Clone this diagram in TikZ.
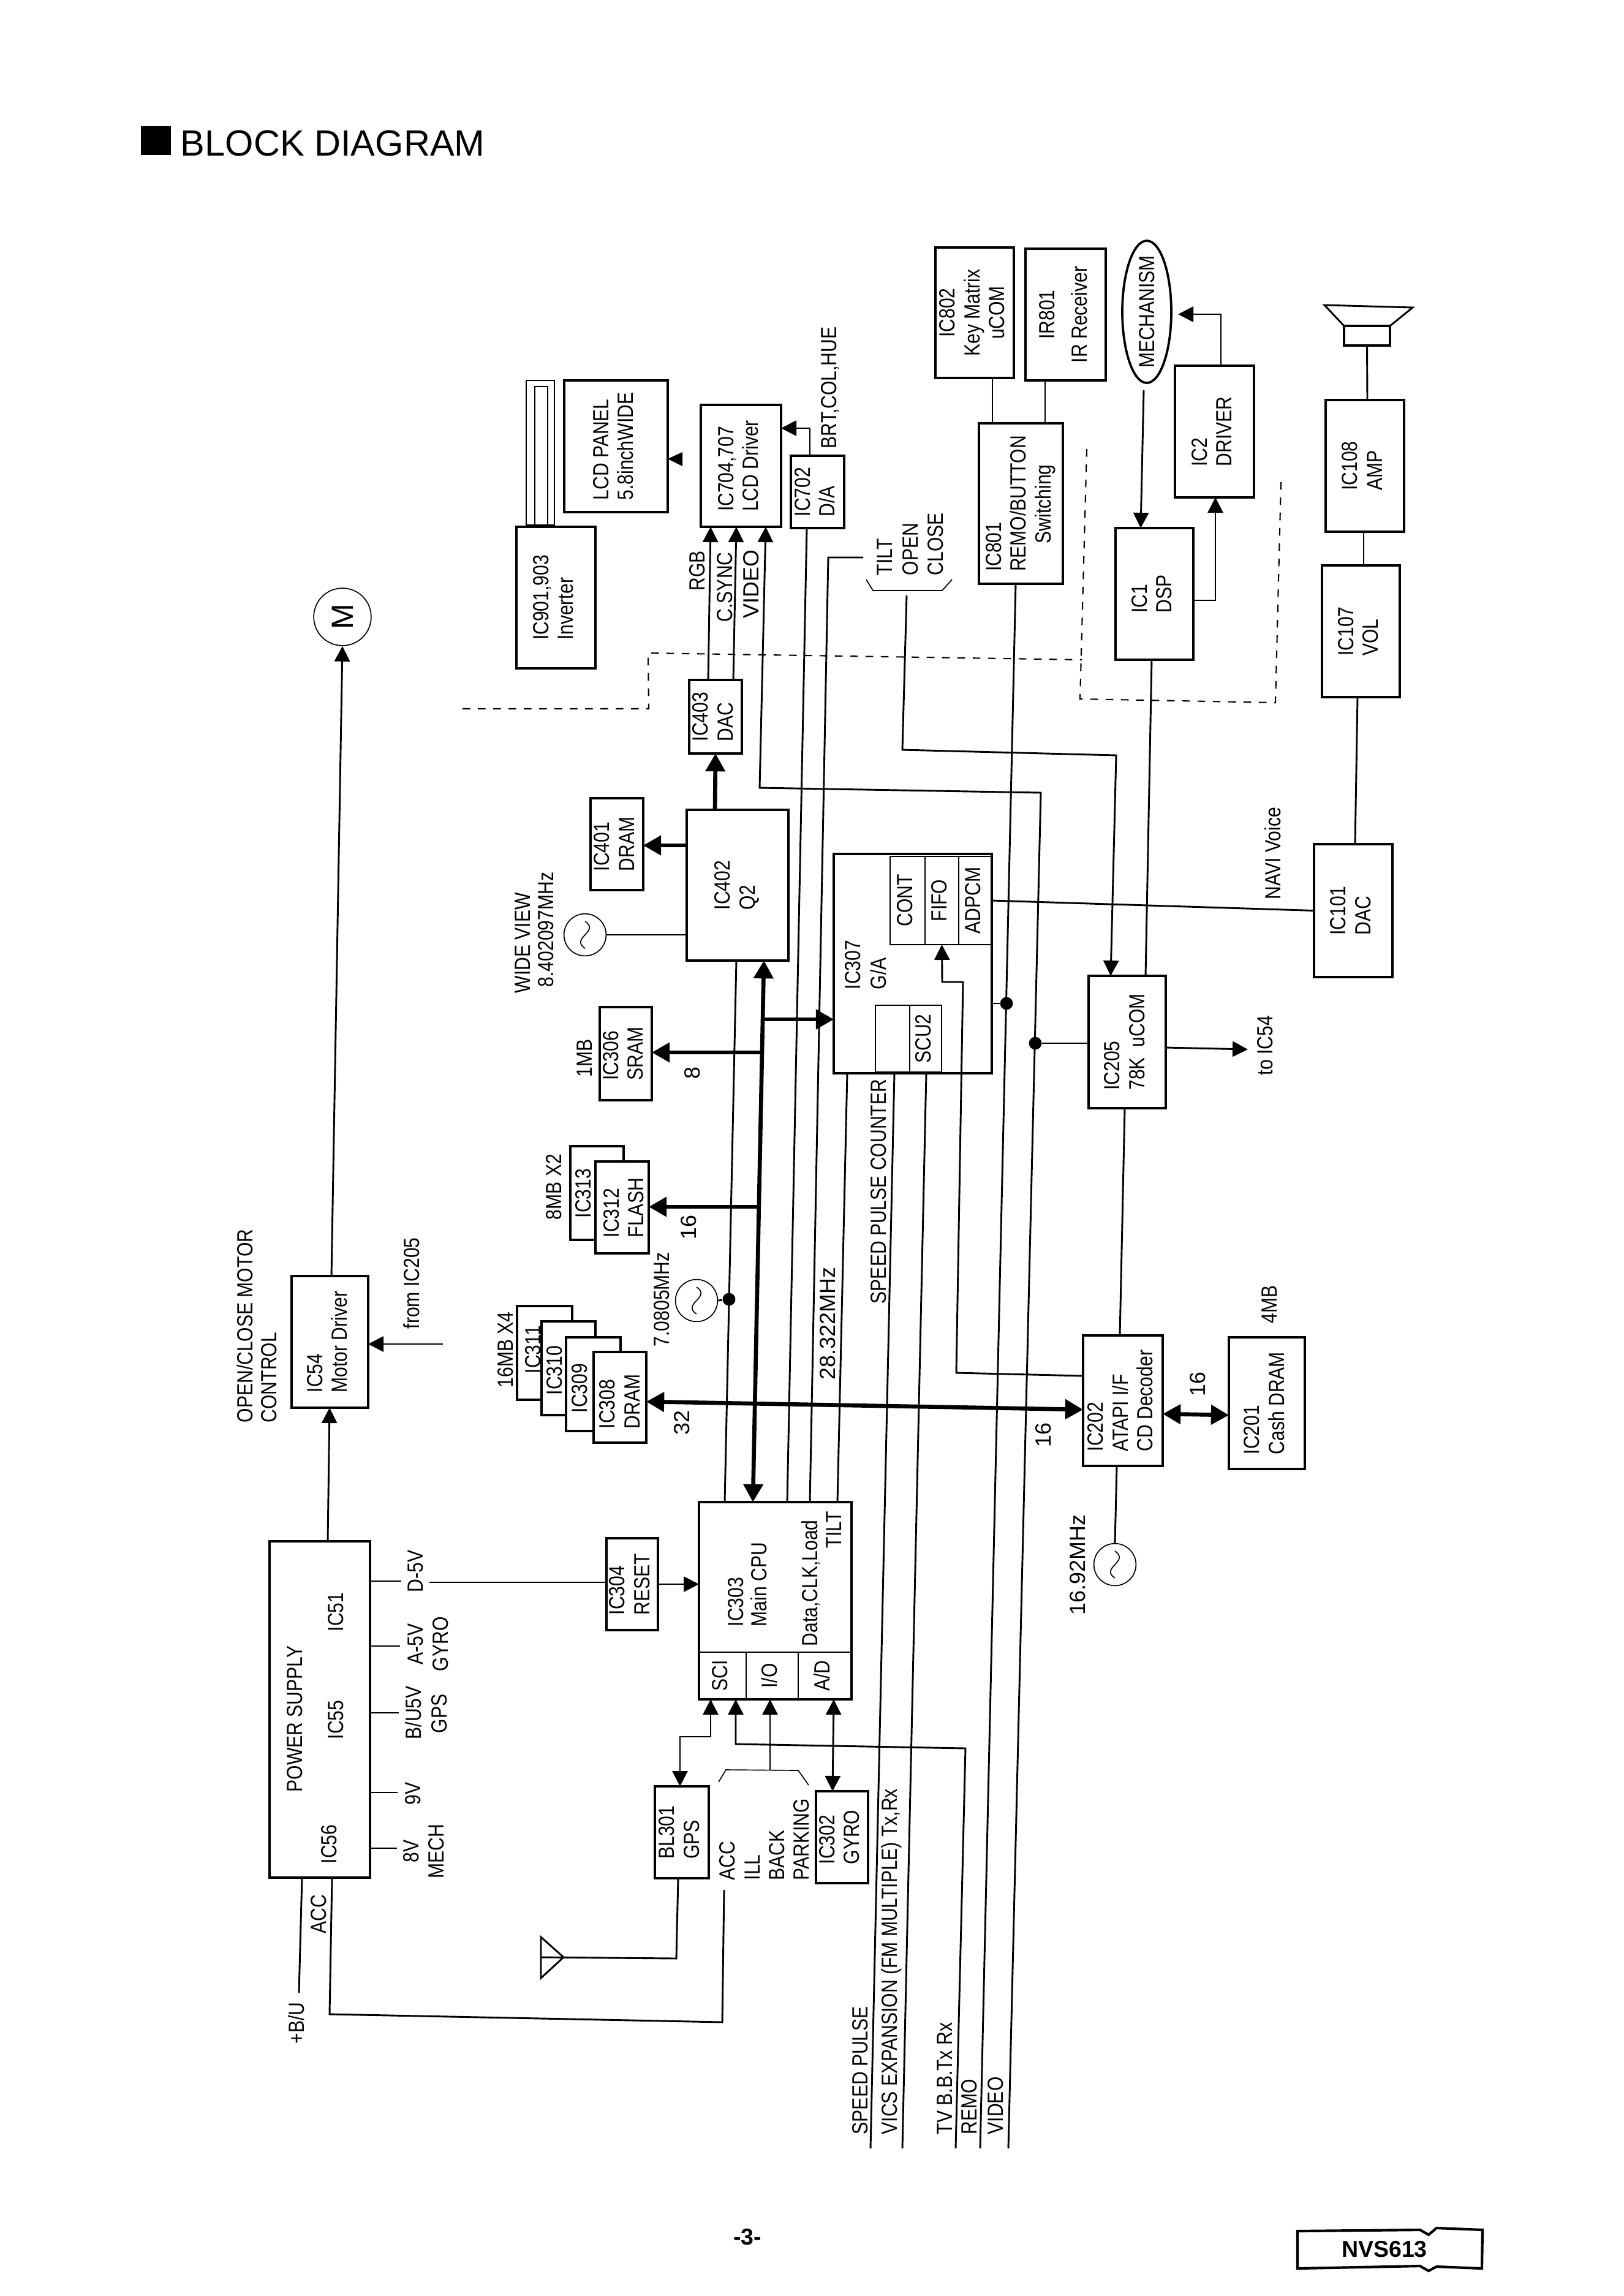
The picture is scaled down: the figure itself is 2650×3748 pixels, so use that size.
\documentclass[tikz,border=0pt]{standalone}
\usepackage{graphicx}
\usepackage{fontspec}
\setmainfont[FakeStretch=0.84]{Liberation Sans}
\newfontfamily\widefont{Liberation Sans}
\usetikzlibrary{arrows.meta}
\usetikzlibrary{shapes.geometric}
\newcommand{\vlines}[1]{\rotatebox{90}{\begin{tabular}{@{}l@{}}#1\end{tabular}}}
\newcommand{\vmid}[1]{\rotatebox{90}{\begin{tabular}{@{}c@{}}#1\end{tabular}}}
\tikzset{corners/.style n args={4}{at={({(#1+#3)/2},{(#2+#4)/2})},minimum width={(#3-#1)*0.24pt},minimum height={(#4-#2)*0.24pt}}}

\begin{document}
\begin{tikzpicture}
	[
	x=0.24pt,y=-0.24pt,
	font=\fontsize{8.6}{9.7}\selectfont,
	>={Triangle[length=6pt,width=6pt]}
	]
	\useasboundingbox (0,0) rectangle (2650,3748);
	
	% Node styles: blocks, inner cells, rotated labels, dots, oscillators
	\tikzstyle{block node}=[draw,line width=.9pt,inner sep=0,outer sep=0];
	\tikzstyle{stack node}=[block node,fill=white];
	\tikzstyle{cell node}=[draw,line width=.4pt,inner sep=0,outer sep=0];
	\tikzstyle{label node}=[rotate=90,anchor=west,inner sep=0];
	\tikzstyle{wide node}=[label node,font=\widefont\fontsize{8.6}{9.7}\selectfont];
	\tikzstyle{dot node}=[circle,fill=black,inner sep=0,minimum size=5pt];
	\tikzstyle{osc node}=[circle,draw,line width=.4pt,inner sep=0,minimum size=16.5pt];
	% Line styles
	\tikzstyle{wire}=[line width=.7pt];
	\tikzstyle{thin wire}=[line width=.4pt];
	\tikzstyle{bus}=[line width=1.6pt,>={Triangle[length=7pt,width=7.5pt]}];
	\tikzstyle{dash wire}=[line width=.5pt,dash pattern=on 3pt off 3pt];
	
	% Title and footer
	\node(titleMark)[fill=black,inner sep=0,corners={230}{206}{279}{253}]{};
	\node(titleText)[anchor=base west,inner sep=0,font=\widefont\fontsize{14.3}{16}\selectfont]at(294,254){BLOCK DIAGRAM};
	\node(pageNo)[font=\widefont\bfseries\fontsize{9}{10}\selectfont]at(1220,3652){-3-};
	\draw[line width=1pt] (2118,3642)--(2318,3640)--(2332,3648)--(2345,3637)--(2420,3640)--(2419,3703)--(2345,3700)--(2332,3707)--(2318,3699)--(2118,3703)--cycle;
	\node(modelNo)[font=\widefont\bfseries\fontsize{9}{10}\selectfont]at(2260,3672){NVS613};
	
	% LCD section
	\node(lampOuter)[block node,line width=.6pt,corners={859}{621}{905}{857}]{};
	\node(lampInner)[block node,line width=.6pt,corners={873}{631}{894}{857}]{};
	\node(IC901)[block node,corners={843}{860}{972}{1091}]{\vlines{IC901,903\\Inverter}};
	\node(LCD)[block node,corners={921}{621}{1090}{836}]{\vlines{LCD PANEL\\5.8inchWIDE}};
	\fill (1090,749)--(1114,738)--(1114,761)--cycle;
	\node(IC704)[block node,corners={1144}{661}{1275}{860}]{\vlines{IC704,707\\LCD Driver}};
	\node(IC702)[block node,corners={1291}{744}{1378}{862}]{\vlines{IC702\\D/A}};
	\node(IC403)[block node,corners={1125}{1110}{1211}{1230}]{\vlines{IC403\\DAC}};
	\node(IC401)[block node,corners={964}{1303}{1050}{1453}]{\vlines{IC401\\DRAM}};
	\node(IC402)[block node,corners={1121}{1322}{1287}{1568}]{\vlines{IC402\\Q2}};
	
	% Panel switches and mechanism
	\node(IC802)[block node,corners={1527}{404}{1655}{617}]{\vmid{IC802\\Key Matrix\\uCOM}};
	\node(IR801)[block node,corners={1674}{406}{1805}{621}]{\vmid{IR801\\[3pt]IR Receiver}};
	\node(IC801)[block node,corners={1598}{691}{1735}{953}]{\vlines{IC801\\REMO/BUTTON\\\hspace*{11pt}Switching}};
	\node(mech)[ellipse,draw,line width=.9pt,inner sep=0,minimum width=19.2pt,minimum height=55.7pt]at(1872,509){};
	\node(mechText)[rotate=90,inner sep=0]at(1872,509){MECHANISM};
	\node(IC2)[block node,corners={1918}{597}{2047}{812}]{\vlines{IC2\\DRIVER}};
	\node(IC1)[block node,corners={1821}{862}{1948}{1077}]{\vlines{IC1\\DSP}};
	
	% Audio chain
	\draw[wire] (2162,498)--(2306,502)--(2269,532)--(2194,532)--cycle;
	\node(spkBox)[block node,corners={2194}{532}{2269}{564}]{};
	\node(IC108)[block node,corners={2164}{653}{2292}{868}]{\vlines{IC108\\AMP}};
	\node(IC107)[block node,corners={2158}{923}{2285}{1138}]{\vlines{IC107\\VOL}};
	\node(IC101)[block node,corners={2145}{1378}{2273}{1595}]{\vlines{IC101\\DAC}};
	
	% Graphics array
	\node(IC307)[block node,corners={1361}{1394}{1619}{1752}]{};
	\node(contCell)[cell node,corners={1453}{1398}{1510}{1542}]{\vlines{CONT}};
	\node(fifoCell)[cell node,corners={1510}{1398}{1565}{1542}]{\vlines{FIFO}};
	\node(adpcmCell)[cell node,corners={1565}{1398}{1619}{1542}]{\vlines{ADPCM}};
	\node(blankCell)[cell node,corners={1429}{1641}{1485}{1750}]{};
	\node(scuCell)[cell node,corners={1485}{1641}{1537}{1750}]{\vlines{SCU2}};
	\node(lblIC307)[label node]at(1392,1616){IC307};
	\node(lblGA)[label node]at(1434,1616){G/A};
	
	% Microcontroller, CD decoder, cache
	\node(IC205)[block node,corners={1777}{1593}{1903}{1809}]{\vlines{IC205\\78K\ \ uCOM}};
	\node(IC202)[block node,corners={1768}{2180}{1898}{2393}]{\vlines{IC202\\ATAPI I/F\\CD Decoder}};
	\node(IC201)[block node,corners={2006}{2183}{2130}{2398}]{\vlines{IC201\\Cash DRAM}};
	
	% Memories, stacked from the back
	\node(IC306)[block node,corners={979}{1644}{1064}{1796}]{\vlines{IC306\\SRAM}};
	\node(IC313)[stack node,corners={931}{1871}{1018}{2024}]{};
	\node(IC312)[stack node,corners={972}{1896}{1059}{2046}]{};
	\node(IC311)[stack node,corners={844}{2132}{934}{2285}]{};
	\node(IC310)[stack node,corners={884}{2157}{972}{2310}]{};
	\node(IC309)[stack node,corners={924}{2183}{1013}{2336}]{};
	\node(IC308)[stack node,corners={969}{2207}{1055}{2355}]{};
	\node(lblIC313)[label node]at(952,1989){IC313};
	\node(lblIC312)[label node]at(998,2021){IC312};
	\node(lblFlash)[label node]at(1038,2021){FLASH};
	\node(lblIC311)[label node]at(870,2243){IC311};
	\node(lblIC310)[label node]at(905,2278){IC310};
	\node(lblIC309)[label node]at(946,2307){IC309};
	\node(lblIC308)[label node]at(991,2333){IC308};
	\node(lblDram)[label node]at(1032,2333){DRAM};
	
	% Main CPU
	\node(IC303)[block node,corners={1141}{2452}{1390}{2774}]{};
	\node(sciCell)[cell node,corners={1141}{2697}{1218}{2774}]{\vlines{SCI}};
	\node(ioCell)[cell node,corners={1218}{2697}{1303}{2774}]{\vlines{I/O}};
	\node(adCell)[cell node,corners={1303}{2697}{1390}{2774}]{\vlines{A/D}};
	\node(lblIC303)[label node]at(1201,2656){IC303};
	\node(lblCpu)[label node]at(1239,2656){Main CPU};
	\node(lblData)[label node]at(1324,2688){Data,CLK,Load};
	\node(lblTilt)[label node]at(1361,2528){TILT};
	\node(IC304)[block node,corners={990}{2511}{1074}{2661}]{\vlines{IC304\\RESET}};
	\node(BL301)[block node,corners={1069}{2916}{1157}{3066}]{\vlines{BL301\\GPS}};
	\node(IC302)[block node,corners={1332}{2924}{1417}{3074}]{\vlines{IC302\\GYRO}};
	
	% Power and motor
	\node(PSU)[block node,corners={440}{2516}{604}{3065}]{};
	\node(lblPsu)[label node]at(481,2926){POWER SUPPLY};
	\node(lblIC51)[label node]at(548,2664){IC51};
	\node(lblIC55)[label node]at(548,2840){IC55};
	\node(lblIC56)[label node]at(537,3043){IC56};
	\node(IC54)[block node,corners={476}{2083}{601}{2298}]{\vlines{IC54\\Motor Driver}};
	\node(motor)[circle,draw,line width=.4pt,inner sep=0,minimum size=22.5pt,font=\widefont\fontsize{12}{13}\selectfont]at(559,1007){\rotatebox{90}{M}};
	
	% Oscillators
	\node(oscWide)[osc node]at(955,1526){};
	\node(oscNav)[osc node]at(1137,2123){};
	\node(oscCd)[osc node]at(1820,2554){};
	\foreach\o in {oscWide,oscNav,oscCd} \draw[thin wire,shift={(\o.center)}] (0,22) .. controls (-25,5) and (25,-5) .. (0,-22);
	
	% Free ends of the lines
	\coordinate(speedEnd) at (1421,3507);
	\coordinate(vicsEnd) at (1473,3507);
	\coordinate(tvEnd) at (1560,3507);
	\coordinate(remoEnd) at (1600,3507);
	\coordinate(videoEnd) at (1646,3507);
	\coordinate(tiltTap) at (1409,910);
	\coordinate(tiltBrace) at (1480,972);
	\coordinate(mechOut) at (1867,637);
	\coordinate(mechIn) at (1923,513);
	\coordinate(toIC54) at (2037,1713);
	\coordinate(fromIC205) at (723,2194);
	\coordinate(resetIn) at (701,2583);
	\coordinate(antTip) at (883,3195);
	\coordinate(accTap) at (1182,3085);
	\coordinate(braceTap) at (1257,2889);
	\coordinate(batEnd) at (488,3253);
	
	% Junctions
	\node(dotRemo)[dot node]at(1643,1638){};
	\node(dotVideo)[dot node]at(1690,1703){};
	\node(dotClk)[dot node]at(1190,2121){};
	
	% Lines of the LCD section
	\draw[wire,->] (1322,0 |- IC702.north)--(1322,699)--(IC704.east |- 0,699);
	\draw[wire,->] (1156,0 |- IC403.north)--(1160,0 |- IC704.south);
	\draw[wire,->] (1197,0 |- IC403.north)--(1202,0 |- IC704.south);
	\draw[wire,->] (videoEnd)--(1699,1294)--(1240,1286)--(1250,0 |- IC704.south);
	\draw[bus,->] (1167,0 |- IC402.north)--(1168,0 |- IC403.south);
	\draw[bus,->] (IC402.west |- 0,1380)--(IC401.east |- 0,1380);
	\draw[wire] (oscWide.east)--(IC402.west |- oscWide.east);
	
	% Lines into the main CPU
	\draw[wire] (1202,0 |- IC402.south)--(1183,0 |- IC303.north);
	\draw[wire] (1317,0 |- IC702.south)--(1285,0 |- IC303.north);
	\draw[wire] (tiltTap)--(1352,910)--(1322,0 |- IC303.north);
	\draw[wire] (1383,0 |- IC307.south)--(1367,0 |- IC303.north);
	\draw[wire] (oscNav.east)--(dotClk);
	\draw[wire] (resetIn)--(IC304.west |- resetIn);
	\draw[wire,->] (IC304.east)--(IC303.west |- IC304.east);
	
	% Buses
	\draw[bus,<->] (1247,0 |- IC402.south)--(1229,0 |- IC303.north);
	\draw[bus,->] (1246,1664)--(IC307.west |- 0,1664);
	\draw[bus,->] (1244,1718)--(IC306.east |- 0,1718);
	\draw[bus,->] (1239,1970)--(IC312.east |- 0,1970);
	\draw[bus,<->] (IC308.east |- 0,2288)--(IC202.west |- 0,2301);
	\draw[bus,<->] (IC202.east |- 0,2308)--(IC201.west |- 0,2310);
	
	% Lines of the graphics array and the bottom connector
	\draw[wire] (1460,0 |- IC307.south)--(speedEnd);
	\draw[wire] (1512,0 |- IC307.south)--(vicsEnd);
	\draw[wire,->] (IC202.west |- 0,2246)--(1561,2241)--(1572,1603)--(1538,1603)--(fifoCell.south);
	\draw[wire] (IC307.east |- dotRemo)--(dotRemo);
	\draw[wire] (adpcmCell.east)--(IC101.west);
	\draw[wire] (IC205.west |- dotVideo)--(dotVideo);
	\draw[wire] (1658,0 |- IC801.south)--(remoEnd);
	\draw[wire] (1620,0 |- IC802.south)--(1620,0 |- IC801.north);
	\draw[wire] (1706,0 |- IR801.south)--(1706,0 |- IC801.north);
	\draw[wire,->] (tvEnd)--(1576,2854)--(1201,2847)--(1201,0 |- IC303.south);
	
	% Lines of the microcontroller
	\draw[wire,->] (tiltBrace)--(1473,1224)--(1822,1233)--(1813,0 |- IC205.north);
	\draw[wire] (1880,0 |- IC1.south)--(1870,0 |- IC205.north);
	\draw[wire,->] (IC205.east |- 0,1710)--(toIC54);
	\draw[wire] (1836,0 |- IC205.south)--(1828,0 |- IC202.north);
	\draw[wire] (1823,0 |- IC202.south)--(oscCd.north);
	
	% Mechanism and audio
	\draw[wire,->] (mechOut)--(1862,0 |- IC1.north);
	\draw[wire,->] (IC1.east |- 0,980)--(1984,980)--(1984,0 |- IC2.south);
	\draw[wire,->] (1993,0 |- IC2.north)--(1993,513)--(mechIn);
	\draw[wire] (spkBox.south)--(2232,0 |- IC108.north);
	\draw[wire] (2226,0 |- IC108.south)--(2226,0 |- IC107.north);
	\draw[wire] (2216,0 |- IC107.south)--(2212,0 |- IC101.north);
	
	% Power lines
	\draw[wire,->] (535,0 |- PSU.north)--(538,0 |- IC54.south);
	\draw[wire,->] (541,0 |- IC54.north)--(motor.south);
	\draw[wire,->] (fromIC205)--(IC54.east |- fromIC205);
	\foreach\y/\e in {2581/655,2687/653,2796/651,2926/649,3017/648} \draw[wire] (PSU.east |- 0,\y)--(\e,\y);
	\draw[wire] (493,0 |- PSU.south)--(batEnd);
	\draw[wire] (542,0 |- PSU.south)--(538,3288)--(1179,3301)--(accTap);
	
	% GPS, inputs, gyro
	\draw[wire] (883,3162)--(883,3229)--(920,3195)--cycle;
	\draw[wire] (antTip)--(1104,3197)--(1107,0 |- BL301.south);
	\draw[wire,<->] (1160,0 |- IC303.south)--(1160,2835)--(1110,2835)--(1110,0 |- BL301.north);
	\draw[wire,->] (braceTap)--(1257,0 |- IC303.south);
	\draw[wire,<->] (1361,0 |- IC303.south)--(1359,0 |- IC302.north);
	
	% Braces
	\draw[thin wire] (1414,946)--(1425,964)--(1538,964)--(1554,946);
	\draw[thin wire] (1173,2909)--(1185,2889)--(1303,2890)--(1320,2914);
	
	% Dashed boundaries
	\draw[dash wire] (755,1157)--(1059,1157)--(1058,1066)--(1766,1077);
	\draw[dash wire] (1774,733)--(1763,1141)--(2082,1147)--(2091,787);
	
	% Signal labels
	\node(lblBrt)[label node]at(1355,733){BRT,COL,HUE};
	\node(lblRgb)[label node]at(1138,965){RGB};
	\node(lblSync)[label node]at(1183,1016){C.SYNC};
	\node(lblVideoIn)[wide node]at(1226,1010){VIDEO};
	\node(lblOpenTilt)[label node]at(1444,940){TILT};
	\node(lblOpen)[label node]at(1486,940){OPEN};
	\node(lblClose)[label node]at(1527,940){CLOSE};
	\node(lblWide)[label node]at(853,1622){WIDE VIEW};
	\node(lblWideHz)[label node]at(891,1612){8.402097MHz};
	\node(lblNavHz)[label node]at(1080,2199){7.0805MHz};
	\node(lblCdHz)[wide node]at(1759,2637){16.92MHz};
	\node(lblClkHz)[wide node]at(1351,2253){28.322MHz};
	\node(lblCounter)[label node]at(1434,2129){SPEED PULSE COUNTER};
	\node(lblNavi)[label node]at(2078,1469){NAVI Voice};
	\node(lblToIC54)[label node]at(2065,1756){to IC54};
	\node(lblFromIC205)[label node]at(672,2170){from IC205};
	\node(lblMotor)[label node]at(400,2323){OPEN/CLOSE MOTOR};
	\node(lblControl)[label node]at(439,2323){CONTROL};
	
	% Bus widths and sizes
	\foreach\x/\y/\t in {1130/1762/8,1124/2024/16,1113/2343/32,1703/2363/16,1955/2280/16} \node[wide node]at(\x,\y){\t};
	\node(lbl1MB)[label node]at(954,1759){1MB};
	\node(lbl8MB)[label node]at(904,1992){8MB X2};
	\node(lbl16MB)[label node]at(825,2266){16MB X4};
	\node(lbl4MB)[label node]at(2072,2161){4MB};
	
	% Supply labels
	\node(lblD5)[label node]at(678,2600){D-5V};
	\node(lblA5)[label node]at(678,2718){A-5V};
	\node(lblGyro)[label node]at(719,2729){GYRO};
	\node(lblBU)[label node]at(675,2840){B/U5V};
	\node(lblGps)[label node]at(717,2830){GPS};
	\node(lbl9V)[label node]at(674,2947){9V};
	\node(lbl8V)[label node]at(671,3041){8V};
	\node(lblMech)[label node]at(712,3067){MECH};
	\node(lblBat)[label node]at(484,3337){+B/U};
	\node(lblAccOut)[label node]at(520,3157){ACC};
	
	% Input labels
	\foreach\x/\t in {1187/ACC,1228/ILL,1268/BACK,1308/PARKING} \node[label node]at(\x,3070){\t};
	
	% Bottom connector labels
	\foreach\x/\t in {1404/SPEED PULSE,1455/VICS EXPANSION (FM MULTIPLE) Tx{,}Rx,1542/TV B.B.Tx Rx,1582/REMO,1625/VIDEO} \node[label node]at(\x,3485){\t};
	
\end{tikzpicture}
\end{document}
